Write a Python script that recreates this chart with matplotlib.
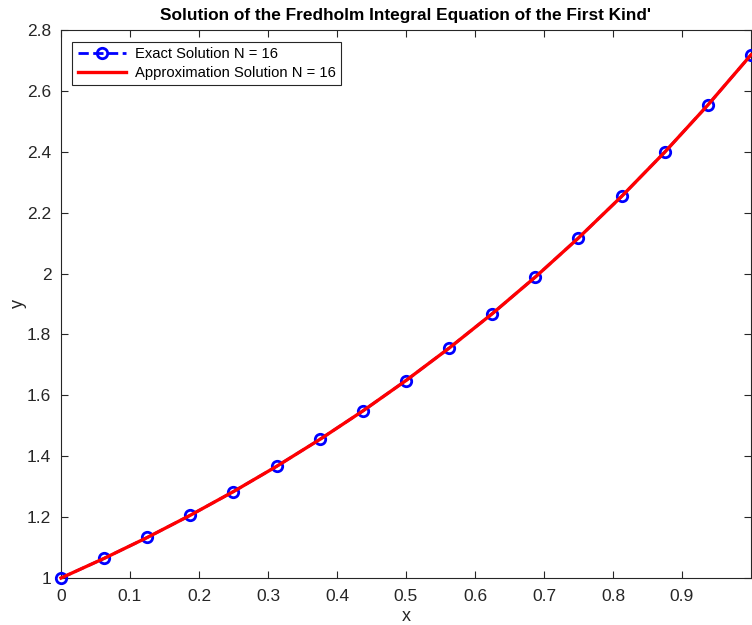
import matplotlib
matplotlib.use("Agg")
import matplotlib.pyplot as plt

x_vals = [0, 0.0625, 0.125, 0.1875, 0.25, 0.3125, 0.375, 0.4375, 0.5,
          0.5625, 0.625, 0.6875, 0.75, 0.8125, 0.875, 0.9375, 1.0]
exact_vals = [1.000, 1.0645, 1.1331, 1.2062, 1.2840, 1.3668, 1.4550, 1.5488, 1.6487,
              1.7551, 1.8682, 1.9887, 2.1170, 2.2535, 2.3989, 2.5536, 2.7183]
approx_vals = [1.000, 1.0645, 1.1331, 1.2062, 1.2840, 1.3668, 1.4550, 1.5488, 1.6487,
               1.7551, 1.8682, 1.9887, 2.1170, 2.2535, 2.3989, 2.5536, 2.7183]
x_ticks = [0, 0.1, 0.2, 0.3, 0.4, 0.5, 0.6, 0.7, 0.8, 0.9]
x_tick_labels = ["0", "0.1", "0.2", "0.3", "0.4", "0.5", "0.6", "0.7", "0.8", "0.9"]
y_ticks = [1, 1.2, 1.4, 1.6, 1.8, 2, 2.2, 2.4, 2.6, 2.8]
y_tick_labels = ["1", "1.2", "1.4", "1.6", "1.8", "2", "2.2", "2.4", "2.6", "2.8"]

plt.rcParams['font.family'] = ['Liberation Sans', 'DejaVu Sans']
dark = '#262626'

fig = plt.figure(figsize=(7.52, 6.25), dpi=100)
ax = fig.add_axes([61/752, 47/625, 690/752, 548/625])

ax.plot(x_vals, exact_vals, linestyle='--', color='#0000ff', linewidth=2,
        marker='o', markersize=7.5, markerfacecolor='none', markeredgewidth=2.0,
        markeredgecolor='#0000ff', label='Exact Solution N = 16', clip_on=False, zorder=3)
ax.plot(x_vals, approx_vals, linestyle='-', color='#ff0000', linewidth=2.4,
        label='Approximation Solution N = 16', clip_on=False, zorder=4)

ax.set_xlim(0, 1)
ax.set_ylim(1, 2.8)
ax.set_xticks(x_ticks)
ax.set_xticklabels(x_tick_labels)
ax.set_yticks(y_ticks)
ax.set_yticklabels(y_tick_labels)
ax.tick_params(direction='in', top=True, right=True, length=5, width=0.8,
               colors=dark, labelsize=12.5)
ax.tick_params(axis='x', pad=8)
ax.tick_params(axis='y', pad=7)
for s in ax.spines.values():
    s.set_color(dark)
    s.set_linewidth(0.8)

ax.set_xlabel('x', fontsize=13, color=dark, labelpad=3)
ax.set_ylabel('y', fontsize=13, color=dark, labelpad=0)
ax.set_title("Solution of the Fredholm Integral Equation of the First Kind'",
             fontsize=12.4, fontweight='bold', color='black', pad=7)

leg = ax.legend(loc='upper left', bbox_to_anchor=(0.0165, 0.979), fontsize=10.6,
                frameon=True, fancybox=False, edgecolor=dark, framealpha=1,
                handlelength=3.3, handletextpad=0.6, borderpad=0.35, labelspacing=0.35,
                borderaxespad=0)
leg.get_frame().set_linewidth(0.8)

fig.savefig('out.png', dpi=100)
